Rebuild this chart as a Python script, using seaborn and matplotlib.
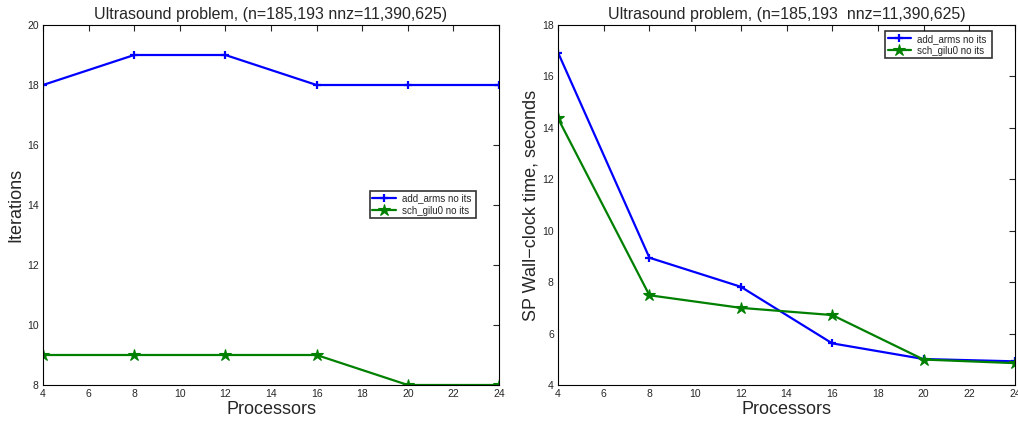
import matplotlib
matplotlib.use("Agg")
import matplotlib.pyplot as plt
import seaborn as sns
import pandas as pd

processors = [4, 8, 12, 16, 20, 24]
iters_arms = [18, 19, 19, 18, 18, 18]
iters_gilu = [9, 9, 9, 9, 8, 8]
time_arms = [16.93, 8.95, 7.82, 5.62, 5.01, 4.92]
time_gilu = [14.37, 7.49, 7.0, 6.72, 4.99, 4.85]
series_names = ["add_arms no its", "sch_gilu0 no its"]
title_left = "Ultrasound problem, (n=185,193 nnz=11,390,625)"
title_right = "Ultrasound problem, (n=185,193  nnz=11,390,625)"
colors = ["#0000ff", "#008000"]

sns.set_style("white")
plt.rcParams['font.family'] = ['Liberation Sans', 'DejaVu Sans']

fig = plt.figure(figsize=(10.18, 4.23), dpi=100)
W, H = 1018, 423
ax1 = fig.add_axes([43 / W, 1 - 385 / H, 456 / W, 360 / H])
ax2 = fig.add_axes([558 / W, 1 - 385 / H, 457 / W, 360 / H])

def draw(ax, a, g, ylim, yticks, ylabel, title, legbox):
    df = pd.DataFrame({
        "Processors": processors * 2,
        "val": list(a) + list(g),
        "series": [series_names[0]] * len(processors) + [series_names[1]] * len(processors),
    })
    sns.lineplot(data=df, x="Processors", y="val", hue="series", style="series",
                 palette=colors, markers=["P", "*"], dashes=False,
                 ax=ax, linewidth=1.6, legend=False)
    lines = ax.get_lines()
    lines[0].set_marker("+"); lines[0].set_markersize(6); lines[0].set_markeredgewidth(1.6)
    lines[1].set_marker("*"); lines[1].set_markersize(9); lines[1].set_markeredgewidth(0.8)
    for ln, nm, c in zip(lines[:2], series_names, colors):
        ln.set_label(nm)
        ln.set_markerfacecolor(c)
        ln.set_markeredgecolor(c)
    ax.set_xlim(4, 24)
    ax.set_ylim(*ylim)
    ax.set_xticks(range(4, 25, 2))
    ax.set_yticks(yticks)
    ax.tick_params(direction="in", top=True, right=True, labelsize=7.5, length=4,
                   width=0.8, pad=3)
    for s in ax.spines.values():
        s.set_color("black"); s.set_linewidth(0.8); s.set_visible(True)
    ax.set_xlabel("Processors", fontsize=13, labelpad=1)
    ax.set_ylabel(ylabel, fontsize=13, labelpad=2)
    ax.set_title(title, fontsize=11.5, pad=4)
    leg = ax.legend(handles=lines[:2], loc="lower left", bbox_to_anchor=legbox,
                    mode="expand", fontsize=7, frameon=True, fancybox=False,
                    borderpad=0.25, handlelength=2.4, labelspacing=0.2,
                    handletextpad=0.6, borderaxespad=0)
    leg.get_frame().set_edgecolor("black")
    leg.get_frame().set_linewidth(1.2)

draw(ax1, iters_arms, iters_gilu, (8, 20), range(8, 21, 2), "Iterations",
     title_left, (0.717, 0.464, 0.233, 0.069))
draw(ax2, time_arms, time_gilu, (4, 18), range(4, 19, 2), "SP Wall\u2212clock time, seconds",
     title_right, (0.716, 0.908, 0.234, 0.073))

fig.savefig("out.png", dpi=100, facecolor="white")
